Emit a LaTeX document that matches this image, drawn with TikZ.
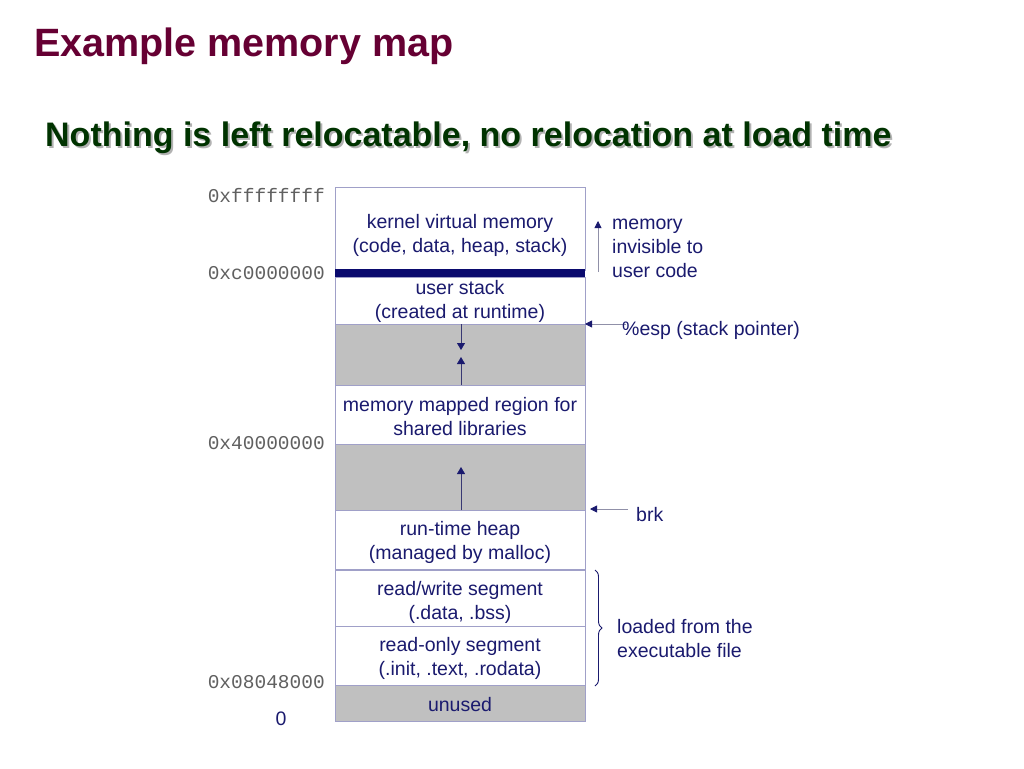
\documentclass[tikz,border=0pt]{standalone}
\usepackage{fontspec}
\setmainfont{Liberation Sans}
\newfontfamily\monofont{Liberation Mono}
\usetikzlibrary{arrows.meta,decorations.pathreplacing,positioning}
\definecolor{navy}{HTML}{1A1A6E}
\definecolor{barnavy}{HTML}{0A0A6E}
\definecolor{edge}{HTML}{A0A0C8}
\definecolor{gapgray}{HTML}{C0C0C0}
\definecolor{addr}{HTML}{606060}
\definecolor{maroon}{HTML}{660033}
\definecolor{dkgreen}{HTML}{003300}
\definecolor{shaft}{HTML}{9090A8}
\tikzset{
  region/.style={draw=edge, line width=0.9pt, minimum width=250pt, inner sep=0pt, outer sep=0pt},
  white region/.style={region, fill=white},
  gray region/.style={region, fill=gapgray},
  lbl/.style={text=navy, font=\fontsize{19.5}{24}\selectfont, align=center, inner sep=0pt},
  sidelbl/.style={text=navy, font=\fontsize{19.5}{24}\selectfont, align=left, inner sep=0pt, anchor=west},
  address/.style={text=addr, font=\monofont\fontsize{19.5}{24}\selectfont, inner sep=0pt, anchor=east},
  growarrow/.style={draw=navy!70!gray, line width=0.8pt, -{Triangle[length=7pt,width=8pt,color=navy]}},
  pointer/.style={draw=shaft, line width=0.8pt, -{Triangle[length=7pt,width=7pt,color=navy]}}
}
\begin{document}
\begin{tikzpicture}[x=1pt,y=-1pt]
\useasboundingbox (0,0) rectangle (1024,768);
% titles
\node[anchor=west, inner sep=0pt, text=maroon, font=\bfseries\fontsize{39.5}{42}\selectfont] (title) at (34,46) {Example memory map};
\node[anchor=west, inner sep=0pt, text=gray!60, font=\bfseries\fontsize{34}{38}\selectfont] (subshadow) at (47,140) {Nothing is left relocatable, no relocation at load time};
\node[anchor=west, inner sep=0pt, text=dkgreen, font=\bfseries\fontsize{34}{38}\selectfont] (subtitle) at (45,138) {Nothing is left relocatable, no relocation at load time};
% regions
\node[white region, minimum height=83pt] (kern) at (460,228.5) {};
\node[white region, minimum height=47pt] (ustack) at (460,300.5) {};
\node[gray region, minimum height=61pt] (gap1) at (460,354.5) {};
\node[white region, minimum height=59pt] (shlib) at (460,414.5) {};
\node[gray region, minimum height=66pt] (gap2) at (460,477) {};
\node[white region, minimum height=59pt] (heap) at (460,539.5) {};
\node[white region, minimum height=56pt] (rw) at (460,598) {};
\node[white region, minimum height=59pt] (ro) at (460,655.5) {};
\node[gray region, minimum height=36pt] (unused) at (460,703) {};
\node[fill=barnavy, minimum width=250pt, minimum height=8pt, inner sep=0pt] (bar) at (460,273) {};
% region labels
\node[lbl] (kernT) at (460,235) {kernel virtual memory\\(code, data, heap, stack)};
\node[lbl] (ustackT) at (460,301) {user stack\\(created at runtime)};
\node[lbl] (shlibT) at (460,417) {memory mapped region for\\shared libraries};
\node[lbl] (heapT) at (460,542.5) {run-time heap\\(managed by malloc)};
\node[lbl] (rwT) at (460,602) {read/write segment\\(.data, .bss)};
\node[lbl] (roT) at (460,658.5) {read-only segment\\(.init, .text, .rodata)};
\node[lbl] (unusedT) at (460,705) {unused};
% growth arrows
\coordinate (g1a) at (461,350);
\coordinate (g1b) at (461,357);
\coordinate (g2a) at (461,467);
\draw[growarrow] (gap1.north) ++(1,0) -- (g1a);
\draw[growarrow] (gap1.south) ++(1,0) -- (g1b);
\draw[growarrow] (gap2.south) ++(1,0) -- (g2a);
% addresses
\node[address] (a1) at (325,196) {0xffffffff};
\node[address] (a2) at (325,273) {0xc0000000};
\node[address] (a3) at (325,443) {0x40000000};
\node[address] (a4) at (325,682) {0x08048000};
\node[text=navy, font=\fontsize{19.5}{24}\selectfont, inner sep=0pt] (zero) at (281,719) {0};
% right-hand annotations
\coordinate (invB) at (598,272);
\coordinate (invT) at (598,221);
\draw[pointer] (invB) -- (invT);
\node[sidelbl] (invT2) at (612,248) {memory\\invisible to\\user code};
\coordinate (espS) at (626,324);
\draw[pointer] (espS) -- (ustack.south east);
\node[sidelbl] (espT) at (622,330) {\%esp (stack pointer)};
\coordinate (brkS) at (628,509);
\coordinate (brkE) at (590,509);
\draw[pointer] (brkS) -- (brkE);
\node[sidelbl] (brkT) at (636,515) {brk};
\coordinate (brA) at (595,570);
\coordinate (brB) at (595,686);
\draw[navy, line width=0.9pt, decorate, decoration={brace, amplitude=7pt}] (brA) -- (brB);
\node[sidelbl] (loadT) at (617,639) {loaded from the\\executable file};
\end{tikzpicture}
\end{document}
